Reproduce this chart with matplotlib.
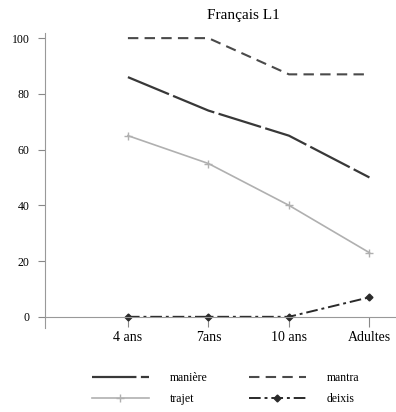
import matplotlib.pyplot as plt
from matplotlib.lines import Line2D

groups = ['4 ans', '7ans', '10 ans', 'Adultes']
maniere = [86, 74, 65, 50]
mantra = [100, 100, 87, 87]
trajet = [65, 55, 40, 23]
deixis = [0, 0, 0, 7]

plt.rcParams['font.family'] = ['Liberation Serif', 'DejaVu Serif']

fig = plt.figure(figsize=(3.96, 4.12), dpi=100)
ax = fig.add_axes([45 / 396, 0.204, 1 - 45 / 396, 0.921 - 0.204])

x = range(len(groups))
styles = {
    'manière': dict(color='#383838', lw=1.6, dashes=(20, 2)),
    'mantra': dict(color='#4a4a4a', lw=1.5, dashes=(5, 3)),
    'trajet': dict(color='#b0b0b0', lw=1.2, marker='+', ms=6),
    'deixis': dict(color='#2a2a2a', lw=1.4, dashes=(6, 2, 1.5, 2),
                   marker='D', ms=3.5),
}
series = {'manière': maniere, 'mantra': mantra, 'trajet': trajet, 'deixis': deixis}
for name, vals in series.items():
    ax.plot(x, vals, clip_on=False, **styles[name])

ax.set_xlim(-1.03, 3.33)
ax.set_ylim(-4, 102)
ax.set_xticks(list(x))
ax.set_xticklabels(groups, fontsize=8.5)
ax.set_yticks([0, 20, 40, 60, 80, 100])
ax.tick_params(axis='y', labelsize=8.5, length=5, color='#888', width=0.8, pad=6)
ax.tick_params(axis='x', direction='out', length=7, color='#888', width=0.8, pad=3)

ax.spines['top'].set_visible(False)
ax.spines['right'].set_visible(False)
ax.spines['bottom'].set_position(('data', 0))
ax.spines['left'].set_color('#999')
ax.spines['bottom'].set_color('#999')
ax.spines['left'].set_linewidth(0.8)
ax.spines['bottom'].set_linewidth(0.8)

fig.text(243 / 396, 1 - 15 / 412, 'Français L1', fontsize=11,
         ha='center', va='center')

# legend: manière / mantra on top row, trajet / deixis below
order = ['manière', 'trajet', 'mantra', 'deixis']
handles = [Line2D([], [], **styles[n]) for n in order]
fig.legend(handles, order, ncol=2, frameon=False, fontsize=8.5,
           loc='center', bbox_to_anchor=(0.57, 0.057), handlelength=4.8,
           columnspacing=3.5, labelspacing=0.8, handletextpad=1.8)

fig.savefig('out.png', dpi=100)
